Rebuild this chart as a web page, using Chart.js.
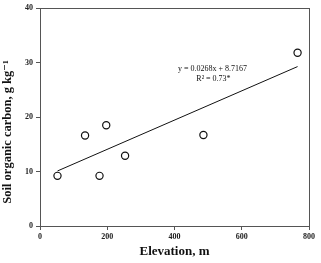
<!DOCTYPE html>
<html>
<head>
<meta charset="utf-8">
<script src="https://cdn.jsdelivr.net/npm/chart.js@4/dist/chart.umd.min.js"></script>
<style>
  html, body { margin: 0; padding: 0; background: #fff; }
  #wrap { width: 321px; height: 263px; }
</style>
</head>
<body>
<div id="wrap"><canvas id="c"></canvas></div>
<script>
// data
const elevation = [52, 134, 197, 177, 253, 486, 766];
const soc = [9.2, 16.6, 18.5, 9.2, 12.9, 16.7, 31.8];
const trendX = [52, 766];
const trendY = [10.1, 29.25];
const xTicks = [0, 200, 400, 600, 800];
const yTicks = [0, 10, 20, 30, 40];
const eqText = ["y = 0.0268x + 8.7167", "R\u00b2 = 0.73*"];
const yTitle = "Soil organic carbon, g kg\u207b\u00b9";

const serif = "'Liberation Serif', 'DejaVu Serif', serif";

// frame round the plot, equation label, y title (sits a bit low in the original)
const framePlugin = {
  id: "frame",
  afterDraw(chart) {
    const { ctx, chartArea: a, scales } = chart;
    ctx.save();
    ctx.strokeStyle = "#555";
    ctx.lineWidth = 1;
    ctx.strokeRect(a.left + 0.5, a.top + 0.5, a.right - a.left, a.bottom - a.top);

    ctx.fillStyle = "#111";
    ctx.font = "8px " + serif;
    ctx.textAlign = "center";
    ctx.textBaseline = "middle";
    const cx = scales.x.getPixelForValue(513);
    ctx.fillText(eqText[0], cx, scales.y.getPixelForValue(28.9));
    ctx.fillText(eqText[1], cx + 1, scales.y.getPixelForValue(27.0));

    ctx.translate(8, 132);
    ctx.rotate(-Math.PI / 2);
    ctx.font = "bold 12.5px " + serif;
    ctx.fillText(yTitle, 0, 0);
    ctx.restore();
  }
};

new Chart(document.getElementById("c"), {
  type: "scatter",
  data: {
    datasets: [
      {
        type: "line",
        data: trendX.map((x, i) => ({ x: x, y: trendY[i] })),
        borderColor: "#111",
        borderWidth: 1,
        pointRadius: 0,
        fill: false
      },
      {
        data: elevation.map((x, i) => ({ x: x, y: soc[i] })),
        pointRadius: 3.6,
        pointBorderWidth: 1.2,
        pointBorderColor: "#111",
        pointBackgroundColor: "#fff"
      }
    ]
  },
  options: {
    responsive: true,
    maintainAspectRatio: false,
    animation: false,
    layout: { padding: { left: 0, right: 12, top: 8, bottom: 0 } },
    plugins: { legend: { display: false }, tooltip: { enabled: false } },
    scales: {
      x: {
        type: "linear",
        min: 0, max: 800,
        afterBuildTicks: s => { s.ticks = xTicks.map(v => ({ value: v })); },
        afterFit: s => { s.height = 37; },
        grid: { drawOnChartArea: false, tickLength: 4, color: "#555" },
        border: { color: "#555" },
        ticks: { color: "#222", padding: 2, font: { family: serif, size: 8, weight: "bold" } },
        title: {
          display: true, text: "Elevation, m", color: "#111", padding: { top: 8 },
          font: { family: serif, size: 13, weight: "bold" }
        }
      },
      y: {
        min: 0, max: 40,
        afterBuildTicks: s => { s.ticks = yTicks.map(v => ({ value: v })); },
        afterFit: s => { s.width = 40; },
        grid: { drawOnChartArea: false, tickLength: 4, color: "#555" },
        border: { color: "#555" },
        ticks: { color: "#222", padding: 3, font: { family: serif, size: 8, weight: "bold" } }
      }
    }
  },
  plugins: [framePlugin]
});
</script>
</body>
</html>
